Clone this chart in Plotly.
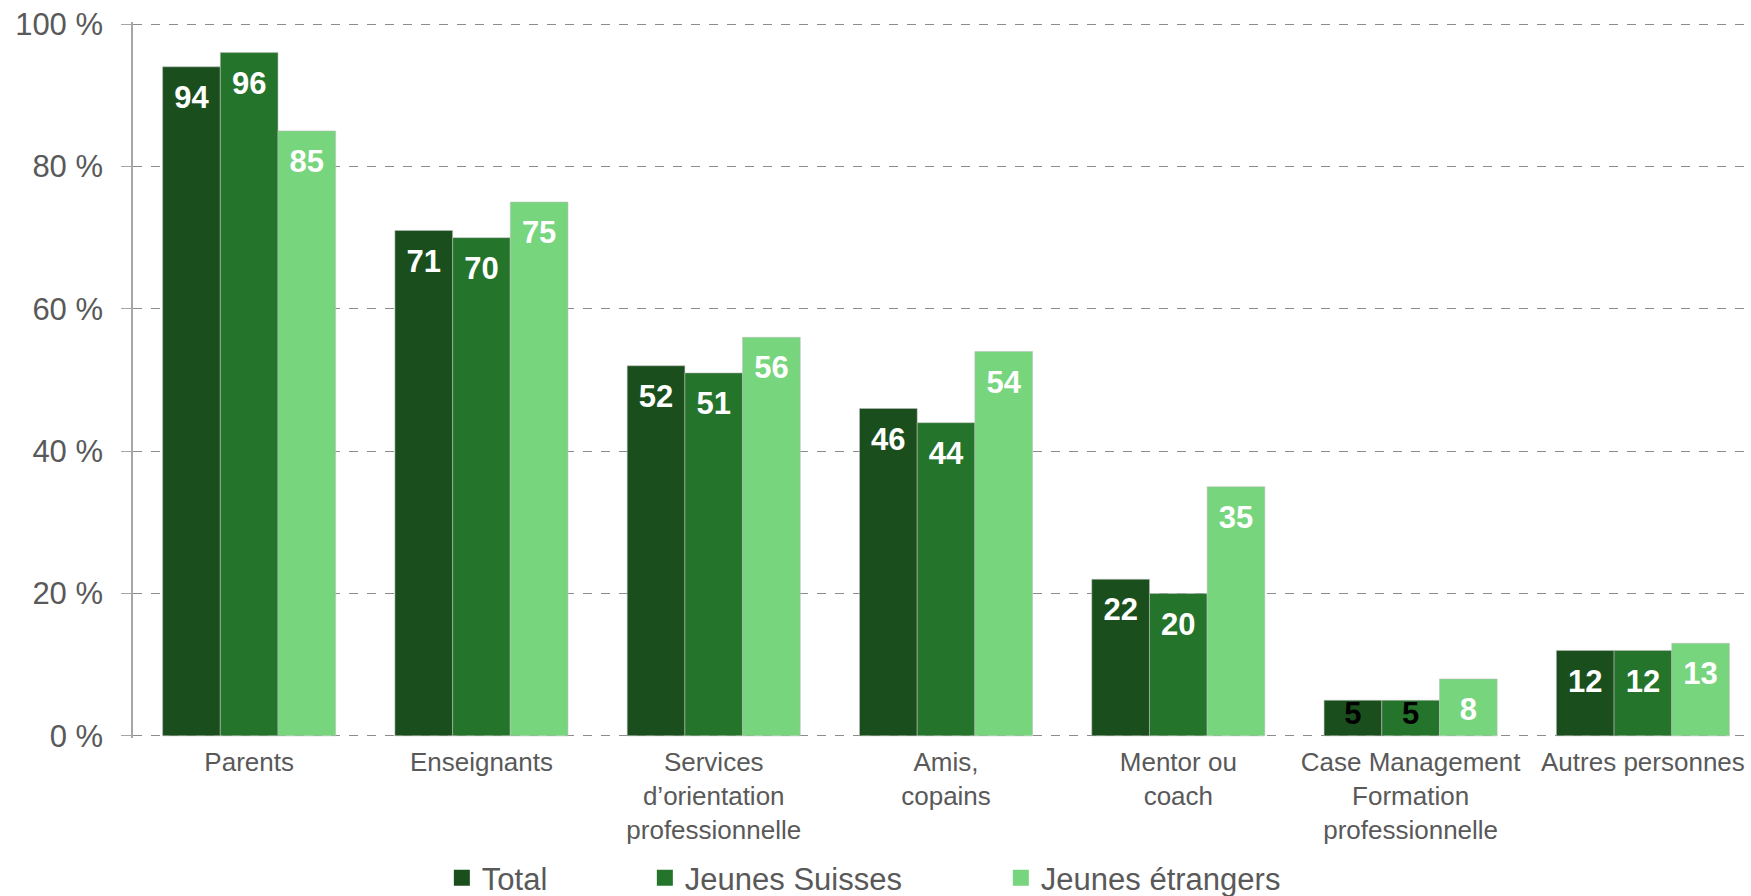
import plotly.graph_objects as go

categories = ["Parents", "Enseignants", "Services<br>d’orientation<br>professionnelle",
              "Amis,<br>copains", "Mentor ou<br>coach",
              "Case Management<br>Formation<br>professionnelle", "Autres personnes"]
total = [94, 71, 52, 46, 22, 5, 12]
suisses = [96, 70, 51, 44, 20, 5, 12]
etrangers = [85, 75, 56, 54, 35, 8, 13]
series_names = ["Total", "Jeunes Suisses", "Jeunes étrangers"]
y_ticks = [0, 20, 40, 60, 80, 100]

colors = ["#1a4e1c", "#25742b", "#76d57d"]
legend_widths = [158, 311, 250]
FONT = "Liberation Sans, Arial, sans-serif"
GREY = "#595959"

fig = go.Figure()
for i, (name, vals, col) in enumerate(zip(series_names, [total, suisses, etrangers], colors)):
    fig.add_trace(go.Bar(
        name=name, x=categories, y=vals,
        marker=dict(color=col, line=dict(color="rgba(190,190,190,0.55)", width=1)),
        offsetgroup=str(i), alignmentgroup="a",
        showlegend=False, hoverinfo="skip",
    ))

for i, (name, vals) in enumerate(zip(series_names, [total, suisses, etrangers])):
    small = [v <= 5 for v in vals]
    fig.add_trace(go.Scatter(
        x=categories, y=vals, mode="markers+text",
        text=[str(v) for v in vals], textposition="bottom center",
        textfont=dict(family=FONT, size=31, weight="bold",
                      color=["black" if s else "white" for s in small]),
        marker=dict(size=[0 if s else 27 for s in small], color="rgba(0,0,0,0)",
                    opacity=0, line=dict(width=0, color="rgba(0,0,0,0)")),
        offsetgroup=str(i), alignmentgroup="a",
        cliponaxis=False, showlegend=False, hoverinfo="skip",
    ))

for name, col, lw in zip(series_names, colors, legend_widths):
    fig.add_trace(go.Scatter(
        x=[None], y=[None], mode="markers", name=name,
        marker=dict(symbol="square", size=16, color=col),
        legendwidth=lw, showlegend=True,
    ))

fig.update_layout(
    width=1751, height=896,
    margin=dict(l=133, r=1, t=22, b=158, autoexpand=False),
    paper_bgcolor="white", plot_bgcolor="white",
    barmode="group", bargap=0.255, bargroupgap=0,
    scattermode="group",
    font=dict(family=FONT, color=GREY),
    showlegend=True,
    legend=dict(orientation="h", x=0.191, xanchor="left", y=-0.1955, yanchor="middle",
                font=dict(family=FONT, size=31, color=GREY), traceorder="normal",
                itemsizing="trace"),
)
fig.update_xaxes(
    range=[-0.5, 6.461],
    showline=False, ticks="", showgrid=False, automargin=False,
    ticklabelstandoff=6,
    tickfont=dict(family=FONT, size=26, color=GREY),
)
fig.update_yaxes(
    range=[-0.3, 100.3], tickvals=y_ticks, ticktext=[f"{v} %" for v in y_ticks],
    showgrid=True, gridcolor="#8c8c8c", gridwidth=1, griddash="dash",
    zeroline=False, automargin=False,
    showline=True, linecolor="#a6a6a6", linewidth=1.5,
    ticks="outside", ticklen=10, tickcolor="#a6a6a6",
    ticklabelstandoff=12,
    tickfont=dict(family=FONT, size=31, color=GREY),
)

fig.write_html("out.html", config={"displayModeBar": False},
               post_script="document.body.style.margin='0px';document.body.style.overflow='hidden';")
